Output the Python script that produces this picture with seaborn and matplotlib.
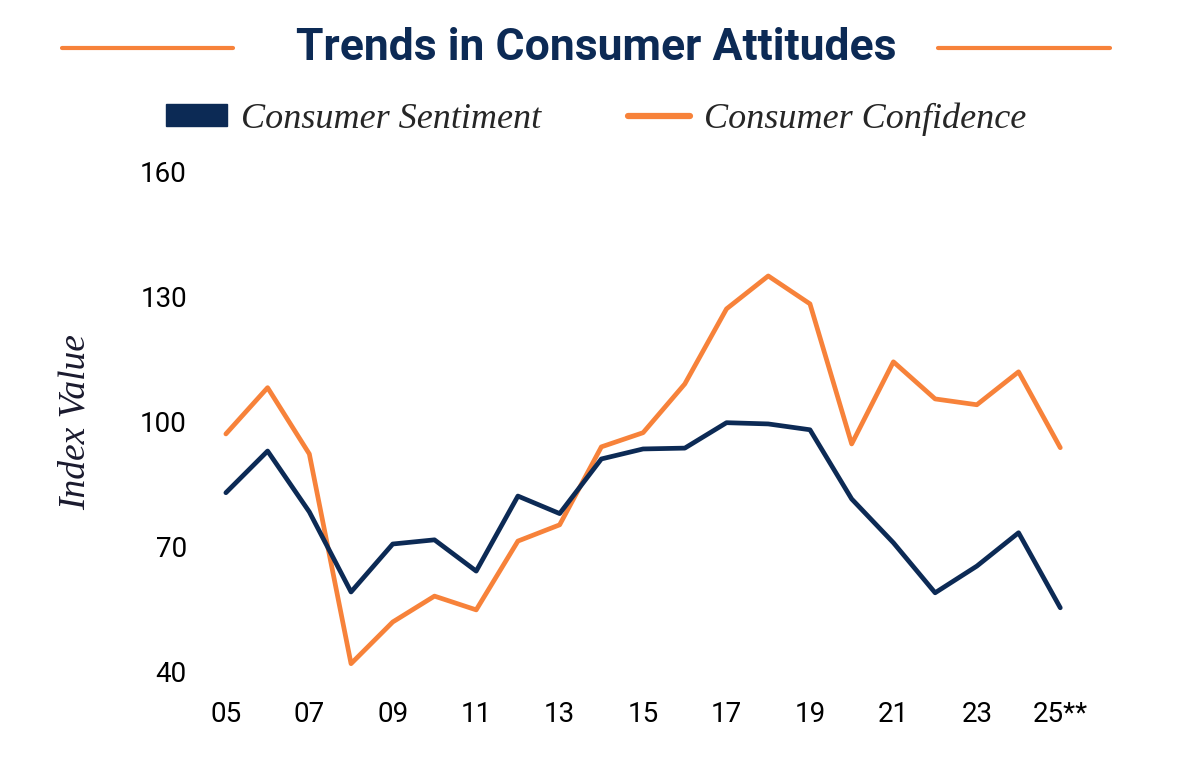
import pandas as pd
import matplotlib.pyplot as plt
import numpy as np
import seaborn as sns
from matplotlib.patches import Patch
from matplotlib.lines import Line2D

years = list(range(2005, 2026))
tick_years = [2005, 2007, 2009, 2011, 2013, 2015, 2017, 2019, 2021, 2023, 2025]
tick_labels = ['05', '07', '09', '11', '13', '15', '17', '19', '21', '23', '25**']
sentiment = [83, 93, 78.4, 59.2, 70.7, 71.7, 64.2, 82.2, 78, 91.1, 93.5,
             93.7, 99.8, 99.5, 98.1, 81.5, 71, 59, 65.4, 73.4, 55.4]
confidence = [97.1, 108.2, 92.3, 42, 52, 58.2, 54.9, 71.4, 75.3, 94, 97.4,
              109.1, 127.1, 135, 128.3, 94.7, 114.4, 105.5, 104.1, 112, 93.8]

navy = '#0c2a55'
orange = '#f7823a'

df = pd.DataFrame({'year': years * 2,
                   'value': sentiment + confidence,
                   'series': ['Consumer Sentiment'] * len(years) + ['Consumer Confidence'] * len(years)})

sns.set_style('white')
plt.rcParams['font.family'] = ['Roboto', 'DejaVu Sans']

fig = plt.figure(figsize=(11.92, 7.67), dpi=100)
ax = fig.add_axes([0.172, 0.113, 0.735, 0.674])

sns.lineplot(data=df, x='year', y='value', hue='series',
             palette={'Consumer Sentiment': navy, 'Consumer Confidence': orange},
             hue_order=['Consumer Confidence', 'Consumer Sentiment'],
             linewidth=3.4, legend=False, ax=ax)

ax.set_xlim(2004.5, 2025.5)
ax.set_ylim(38, 162)
ax.set_yticks([40, 70, 100, 130, 160])
ax.set_xticks(tick_years)
ax.set_xticklabels(tick_labels)
ax.tick_params(axis='both', length=0, labelsize=20, colors='black')
ax.tick_params(axis='y', pad=13)
ax.tick_params(axis='x', pad=15)
for s in ax.spines.values():
    s.set_visible(False)
ax.set_xlabel('')
ax.set_ylabel('Index Value', family='Liberation Serif', style='italic',
              fontsize=27, color='#1a1a2e', labelpad=34)

fig.text(0.5, 0.937, 'Trends in Consumer Attitudes', ha='center', va='center',
         fontsize=32, fontweight='bold', color=navy)
fig.add_artist(Line2D([62/1192, 233/1192], [0.937, 0.937], color=orange, lw=3))
fig.add_artist(Line2D([938/1192, 1110/1192], [0.937, 0.937], color=orange, lw=3))

handles = [Patch(facecolor=navy, edgecolor=navy),
           Line2D([], [], color=orange, lw=4.5)]
fig.legend(handles, ['Consumer Sentiment', 'Consumer Confidence'],
           loc='center', bbox_to_anchor=(0.5, 0.845), ncol=2, frameon=False,
           prop={'family': 'Liberation Serif', 'style': 'italic', 'size': 26},
           handlelength=1.7, handleheight=0.55, handletextpad=0.4, columnspacing=2.4)

fig.savefig('out.png', dpi=100, facecolor='white')
